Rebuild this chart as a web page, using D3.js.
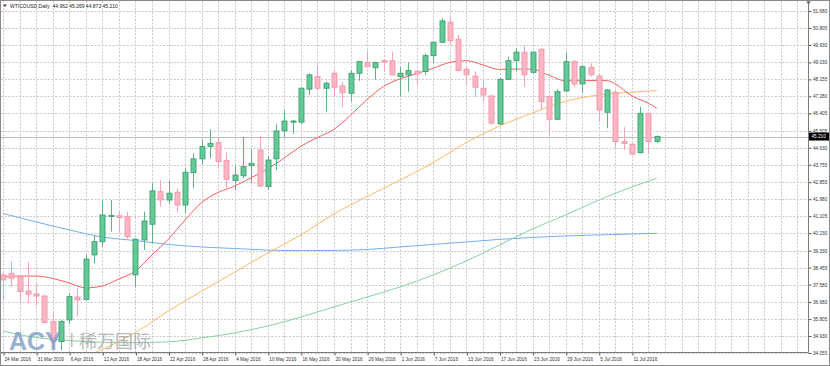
<!DOCTYPE html>
<html><head><meta charset="utf-8">
<script src="https://cdn.jsdelivr.net/npm/d3@7"></script>
<style>
html,body{margin:0;padding:0;background:#fff;}
svg{display:block;font-family:"Liberation Sans",Arial,sans-serif;}
</style></head>
<body>
<svg id="c" width="830" height="366"></svg>
<script>
// ---------- data ----------
const dates = ["24 Mar 2016","28 Mar 2016","29 Mar 2016","30 Mar 2016","31 Mar 2016","1 Apr 2016","4 Apr 2016","5 Apr 2016","6 Apr 2016","7 Apr 2016",
"8 Apr 2016","11 Apr 2016","12 Apr 2016","13 Apr 2016","14 Apr 2016","15 Apr 2016","18 Apr 2016","19 Apr 2016","20 Apr 2016","21 Apr 2016",
"22 Apr 2016","25 Apr 2016","26 Apr 2016","27 Apr 2016","28 Apr 2016","29 Apr 2016","2 May 2016","3 May 2016","4 May 2016","5 May 2016",
"6 May 2016","9 May 2016","10 May 2016","11 May 2016","12 May 2016","13 May 2016","16 May 2016","17 May 2016","18 May 2016","19 May 2016",
"20 May 2016","23 May 2016","24 May 2016","25 May 2016","26 May 2016","27 May 2016","30 May 2016","31 May 2016","1 Jun 2016","2 Jun 2016",
"3 Jun 2016","6 Jun 2016","7 Jun 2016","8 Jun 2016","9 Jun 2016","10 Jun 2016","13 Jun 2016","14 Jun 2016","15 Jun 2016","16 Jun 2016",
"17 Jun 2016","20 Jun 2016","21 Jun 2016","22 Jun 2016","23 Jun 2016","24 Jun 2016","27 Jun 2016","28 Jun 2016","29 Jun 2016","30 Jun 2016",
"1 Jul 2016","4 Jul 2016","5 Jul 2016","6 Jul 2016","7 Jul 2016","8 Jul 2016","11 Jul 2016","12 Jul 2016","13 Jul 2016","14 Jul 2016"];

const open = [38.08,38.16,37.99,37.25,37.10,36.99,35.67,34.64,35.76,36.94,
36.82,39.11,39.79,41.09,41.13,41.08,38.08,39.88,40.69,42.37,
41.94,42.34,41.68,43.35,44.06,44.69,44.90,43.97,42.94,43.19,
43.71,44.52,42.63,44.06,45.51,45.95,45.95,47.65,48.30,47.70,
48.47,47.82,47.44,48.47,49.04,48.76,49.12,49.12,48.30,48.39,
48.58,48.56,49.38,50.07,51.10,50.23,48.68,48.33,47.70,47.30,
45.86,48.16,49.12,49.56,48.52,49.71,47.27,46.10,47.56,49.07,
47.92,48.78,48.33,46.46,47.49,44.95,44.81,44.38,46.41,44.962];
const high = [38.18,38.76,38.02,38.75,37.66,37.05,36.17,35.76,37.13,37.41,
39.11,40.14,41.91,41.94,41.34,41.34,39.97,41.34,42.80,42.97,
42.94,42.55,43.58,44.35,45.03,45.59,45.17,44.38,43.69,45.20,
44.56,45.24,44.21,45.86,46.58,46.07,47.75,48.47,48.90,48.04,
48.64,48.04,48.64,49.11,49.64,49.07,49.19,49.59,48.81,49.02,
48.64,49.50,50.10,51.31,51.43,50.45,48.81,48.56,48.13,47.35,
48.23,49.33,49.76,49.88,49.59,49.76,47.35,47.65,49.53,49.16,
48.90,48.99,48.39,47.65,47.61,45.69,44.86,46.75,46.44,45.269];
const low = [36.79,37.47,36.65,36.63,36.48,35.60,34.31,34.21,35.55,35.93,
36.75,38.68,39.53,40.31,40.31,39.88,37.44,39.36,39.71,41.60,
41.74,41.29,41.26,42.55,43.75,44.09,43.58,42.55,42.46,43.06,
42.80,42.63,42.46,43.49,45.17,45.34,45.86,47.35,47.61,46.49,
47.28,46.75,47.01,48.08,48.78,48.13,48.56,48.35,47.27,47.52,
47.87,48.39,49.02,50.02,49.93,48.56,47.87,47.27,47.01,45.81,
45.81,48.13,48.56,47.78,48.47,46.58,45.34,46.07,47.52,47.75,
47.44,48.30,45.98,45.64,44.61,44.52,44.26,44.35,44.35,44.873];
const close = [37.82,37.91,37.22,37.08,36.99,35.62,34.64,35.68,36.96,36.79,
38.89,39.79,41.17,41.14,41.03,40.05,39.92,40.86,42.41,41.94,
42.29,41.68,43.37,44.06,44.69,44.86,43.92,43.01,43.23,43.66,
43.83,42.66,44.00,45.50,46.01,46.01,47.70,48.39,47.70,47.96,
47.75,47.47,48.47,49.07,48.81,49.02,49.06,48.39,48.47,48.61,
48.44,49.38,50.07,51.17,50.15,48.61,48.39,47.75,47.35,45.90,
48.16,49.12,49.56,48.39,49.56,47.01,46.10,47.52,49.07,47.92,
48.81,48.39,46.58,47.61,44.95,44.86,44.30,46.41,44.95,45.210];

// moving averages: [bar index, price]
const maRed = [[0,37.97],[2,38.02],[4,38.02],[6,37.90],[8,37.66],[10,37.41],[12,37.51],[14,37.87],[16,38.28],[18,39.11],
[20,39.93],[22,40.91],[24,41.81],[26,42.33],[28,42.66],[30,43.09],[32,43.55],[34,44.11],[36,44.71],[38,45.16],
[40,45.58],[42,46.31],[44,47.12],[46,47.79],[48,48.19],[50,48.45],[52,48.73],[54,49.03],[56,49.12],[58,48.90],
[60,48.67],[62,48.69],[64,48.68],[66,48.36],[68,48.08],[70,48.09],[72,48.10],[73,48.09],[74,47.92],[76,47.30],[78,46.92],[79,46.67]];
const maOrange = [[8,33.51],[12,34.24],[16,35.11],[20,36.23],[24,37.24],[28,38.22],[32,39.21],[36,40.14],[40,41.22],[44,42.12],
[48,42.97],[52,43.87],[56,44.90],[60,45.75],[64,46.43],[68,47.03],[72,47.35],[76,47.50],[79,47.58]];
const maGreen = [[0,35.19],[4,34.85],[8,34.70],[12,34.61],[16,34.59],[20,34.63],[24,34.83],[28,35.09],[32,35.45],[36,35.91],
[40,36.43],[44,36.94],[48,37.46],[52,38.08],[56,38.80],[60,39.62],[64,40.45],[68,41.17],[72,41.94],[76,42.61],[79,43.06]];
const maBlue = [[0,41.25],[4,40.81],[8,40.40],[12,40.03],[16,39.85],[20,39.65],[24,39.52],[28,39.44],[32,39.36],[36,39.33],
[40,39.34],[44,39.39],[48,39.52],[52,39.65],[56,39.78],[60,39.91],[64,40.01],[68,40.09],[72,40.14],[76,40.19],[79,40.22]];

const priceTicks = ["51.680","50.805","49.930","49.030","48.155","47.280","46.405","45.505","44.630","43.755","42.855",
"41.980","41.105","40.230","39.330","38.455","37.580","36.680","35.805","34.930","34.055"];
const lastPrice = 45.210;
const titleText = "WTICOUSD,Daily  44.962 45.269 44.873 45.210";

// ---------- drawing ----------
const svg = d3.select("#c");
const W = 830, H = 366, plotR = 808.5, plotB = 352.5;
const x = d3.scaleLinear().domain([0, 96]).range([3, 797.4]);
const y = d3.scaleLinear().domain([34.055, 51.68]).range([353, 11]);

svg.append("rect").attr("width",W).attr("height",H).attr("fill","#fff");

svg.append("defs").append("clipPath").attr("id","clip")
  .append("rect").attr("x",1).attr("y",1).attr("width",plotR-1).attr("height",plotB-1);

// grid
const grid = svg.append("g").attr("stroke","#c9c9c9").attr("stroke-width",1).attr("stroke-dasharray","2,1.6");
grid.selectAll("line.h").data(priceTicks).join("line")
  .attr("x1",1).attr("x2",plotR).attr("y1",d=>Math.round(y(+d))+0.5).attr("y2",d=>Math.round(y(+d))+0.5);
const vIdx = d3.range(0, 97, 2);
grid.selectAll("line.v").data(vIdx).join("line")
  .attr("y1",1).attr("y2",plotB).attr("x1",d=>Math.round(x(d))+0.5).attr("x2",d=>Math.round(x(d))+0.5);

const plot = svg.append("g").attr("clip-path","url(#clip)");

// current price line
plot.append("line").attr("x1",0).attr("x2",plotR)
  .attr("y1",Math.round(y(lastPrice))+0.5).attr("y2",Math.round(y(lastPrice))+0.5)
  .attr("stroke","#bdbdbd").attr("stroke-width",1);

// moving averages
const line = d3.line().x(d=>x(d[0])).y(d=>y(d[1])).curve(d3.curveMonotoneX);
[[maBlue,"#74aef0"],[maGreen,"#86d2a6"],[maOrange,"#ffb766"],[maRed,"#f26060"]].forEach(([data,col])=>{
  plot.append("path").attr("d",line(data)).attr("fill","none").attr("stroke",col).attr("stroke-width",1);
});

// candles
const bars = d3.range(open.length).map(i=>({i,o:open[i],h:high[i],l:low[i],c:close[i]}));
const upFill="#62c997", upStroke="#3ea172", dnFill="#ffb5c3", dnStroke="#f297a8";
const cg = plot.append("g");
cg.selectAll("line.w").data(bars).join("line")
  .attr("x1",d=>Math.round(x(d.i))+0.5).attr("x2",d=>Math.round(x(d.i))+0.5)
  .attr("y1",d=>y(d.h)).attr("y2",d=>y(d.l))
  .attr("stroke",d=>d.c>=d.o?"#5cb487":"#f3a5b4").attr("stroke-width",1);
cg.selectAll("rect.b").data(bars).join("rect")
  .attr("x",d=>Math.round(x(d.i))-2)
  .attr("width",5)
  .attr("y",d=>y(Math.max(d.o,d.c)))
  .attr("height",d=>Math.max(1,Math.abs(y(d.o)-y(d.c))))
  .attr("fill",d=>d.c>=d.o?upFill:dnFill)
  .attr("stroke",d=>d.c>=d.o?upStroke:dnStroke).attr("stroke-width",0.9);

// axes
const labelIdx = d3.range(0, 80, 4);
const xa = svg.append("g").attr("transform",`translate(0,${plotB})`)
  .call(d3.axisBottom(x).tickValues(labelIdx).tickFormat(i=>dates[i]).tickSize(3).tickPadding(2));
xa.select(".domain").remove();
xa.selectAll(".tick line").attr("stroke","#555").attr("transform","translate(0.5,0)");
xa.selectAll(".tick text").attr("text-anchor","start").attr("dx",1).attr("font-size",4.7)
  .attr("fill","#333").attr("font-family","'Liberation Sans',Arial,sans-serif");

const ya = svg.append("g").attr("transform",`translate(${plotR},0)`)
  .call(d3.axisRight(y).tickValues(priceTicks.map(Number)).tickFormat(d=>d.toFixed(3)).tickSize(3).tickPadding(1.5));
ya.select(".domain").remove();
ya.selectAll(".tick line").attr("stroke","#555");
ya.selectAll(".tick text").attr("font-size",4.7).attr("fill","#333")
  .attr("font-family","'Liberation Sans',Arial,sans-serif");

// axis lines
svg.append("line").attr("x1",0).attr("x2",plotR).attr("y1",plotB).attr("y2",plotB).attr("stroke","#7a7a7a");
svg.append("line").attr("x1",plotR).attr("x2",plotR).attr("y1",0).attr("y2",plotB).attr("stroke","#7a7a7a");

// last price tag
const yl = y(lastPrice);
svg.append("rect").attr("x",plotR+0.5).attr("y",yl-4).attr("width",20).attr("height",8).attr("fill","#000");
svg.append("text").attr("x",plotR+3).attr("y",yl).attr("dy","0.34em").attr("font-size",4.7)
  .attr("fill","#fff").text(lastPrice.toFixed(3));

// title
svg.append("path").attr("d","M3,4.5 L7,4.5 L5,7 Z").attr("fill","#444");
svg.append("text").attr("x",10).attr("y",8).attr("font-size",5).attr("fill","#222")
  .attr("xml:space","preserve").style("white-space","pre").text(titleText);

// shift marker top right
svg.append("path").attr("d","M806,1.5 L811,1.5 L808.5,4.5 Z").attr("fill","#666");

// watermark
const wm = svg.append("g").attr("opacity",0.78);
wm.append("text").attr("x",9).attr("y",349.5).attr("font-size",25).attr("font-weight","bold")
  .attr("font-family","'Liberation Sans',Arial,sans-serif").attr("fill","#7d9bc6").text("ACY");
wm.append("rect").attr("x",71).attr("y",333).attr("width",1.5).attr("height",14).attr("fill","#a8a8a8");
wm.append("text").attr("x",79).attr("y",347.5).attr("font-size",18)
  .attr("font-family","'Noto Sans CJK SC',sans-serif").attr("fill","#a3a3a3").text("稀万国际");

// frame
svg.append("rect").attr("x",0.5).attr("y",0.5).attr("width",W-1).attr("height",H-1)
  .attr("fill","none").attr("stroke","#8a8a8a");
</script>
</body></html>
